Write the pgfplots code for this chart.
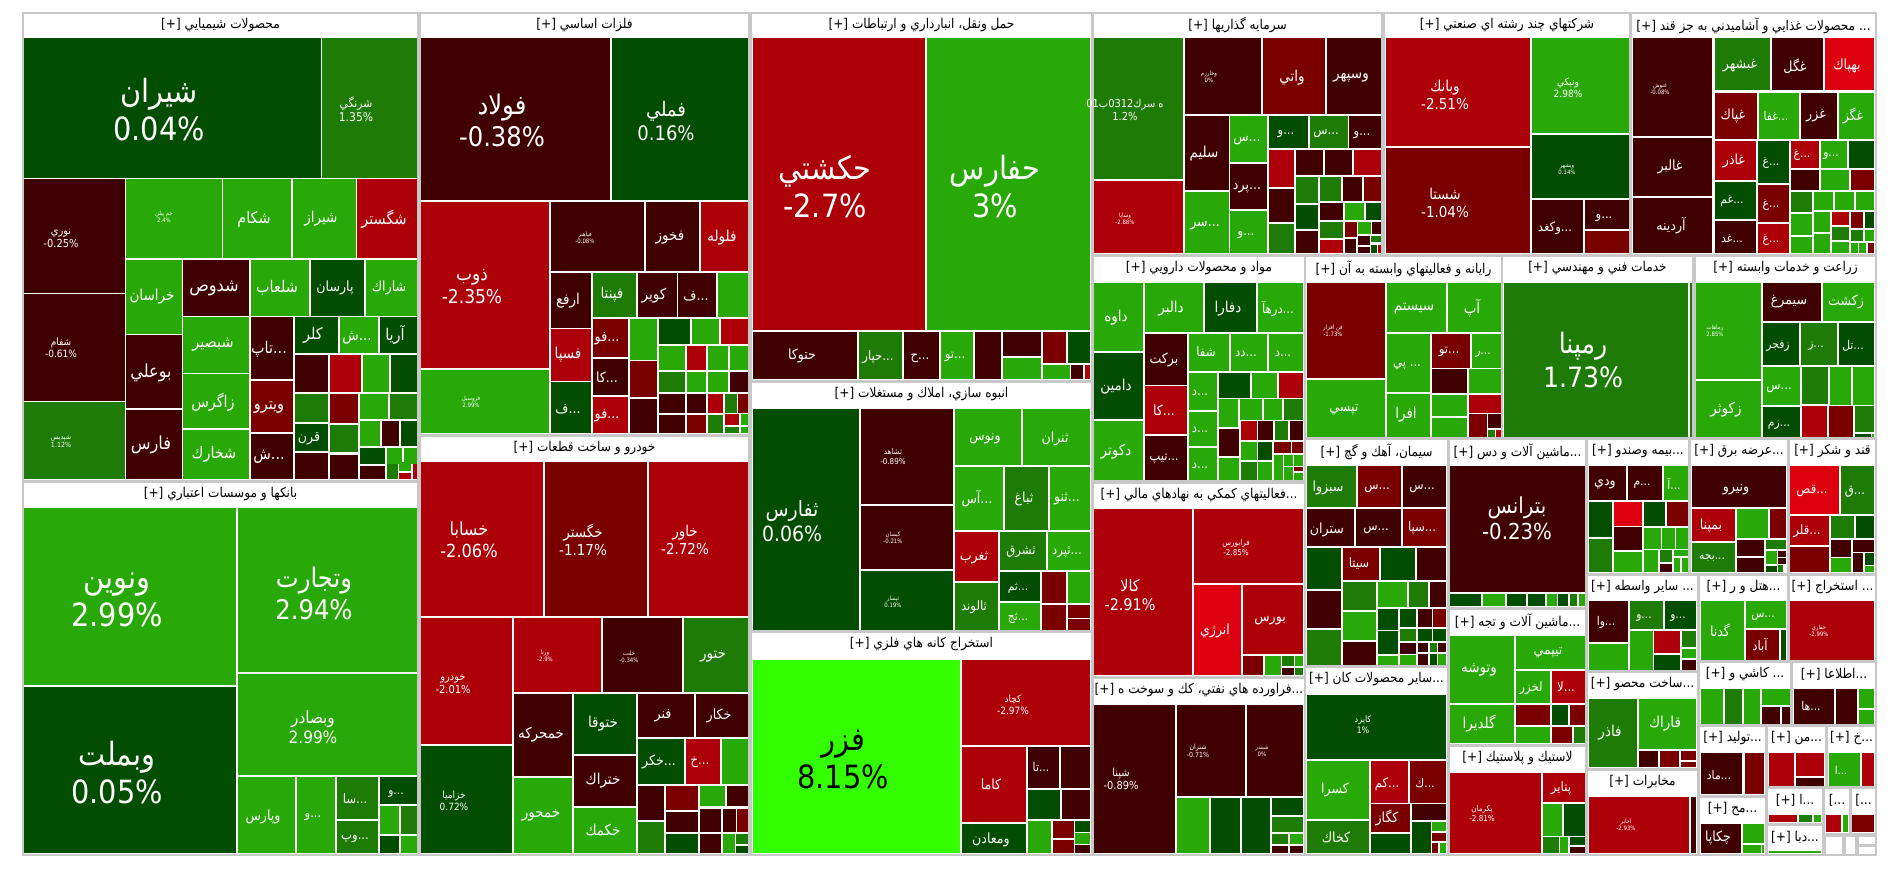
\documentclass[border=0pt]{standalone}
\usepackage{pgfplots}
\pgfplotsset{compat=1.18}
\usepackage{fontspec}
\setmainfont{DejaVu Sans Condensed}
\newfontfamily\ar[Script=Arabic]{DejaVu Sans Condensed}
\TeXXeTstate=1
\definecolor{dk}{HTML}{400000}
\definecolor{md}{HTML}{7A0000}
\definecolor{rd}{HTML}{AD0009}
\definecolor{br}{HTML}{DD000F}
\definecolor{lg}{HTML}{28A908}
\definecolor{mg}{HTML}{1D7B06}
\definecolor{dg}{HTML}{024D00}
\definecolor{fz}{HTML}{33FF00}
\definecolor{edge}{HTML}{C8C8C8}
\newcommand\R[1]{{\ar\beginR #1\endR}}
% one treemap cell, corners in image pixels
\newcommand\cell[5]{\addplot[fill=#5,draw=none] coordinates {(#1,#2)(#3,#2)(#3,#4)(#1,#4)} -- cycle;}
% sector box with its white header
\newcommand\sect[5]{\addplot[fill=white,draw=edge,line width=1.5pt] coordinates {(#1,#2)(#3,#2)(#3,#4)(#1,#4)} -- cycle;
  \node[black,font=\fontsize{13.5}{15}\selectfont,inner sep=0pt] at (axis cs:{(#1+#3)/2},{#2+12.5}) {#5};}
\newcommand\lab[5][white]{\node[#1,align=center,inner sep=0pt,font=\fontsize{#4}{\numexpr#4*6/5\relax}\selectfont] at (axis cs:#2,#3) {#5};}
\begin{document}
\begin{tikzpicture}
\useasboundingbox (0,0) rectangle (1900pt,873pt);
\begin{axis}[
    at={(0,0)},anchor=south west,
    scale only axis,
    width=1900pt,height=873pt,
    xmin=0,xmax=1900,ymin=0,ymax=873,
    y dir=reverse,
    axis lines=none,
    clip=false
]
% sector boxes
\sect{23}{13}{418}{481}{[+] \R{محصولات شيميايي}}
\sect{23}{482}{418}{855}{[+] \R{بانكها و موسسات اعتباري}}
\sect{420}{13}{749}{435}{[+] \R{فلزات اساسي}}
\sect{420}{436}{749}{855}{[+] \R{خودرو و ساخت قطعات}}
\sect{751}{13}{1092}{381}{[+] \R{حمل ونقل، انبارداري و ارتباطات}}
\sect{751}{382}{1092}{631}{[+] \R{انبوه سازي، املاك و مستغلات}}
\sect{751}{632}{1092}{855}{[+] \R{استخراج كانه هاي فلزي}}
\sect{1093}{13}{1382}{255}{[+] \R{سرمايه گذاريها}}
\sect{1384}{13}{1630}{255}{[+] \R{شركتهاي چند رشته اي صنعتي}}
\sect{1631}{13}{1876}{255}{[+] \R{محصولات غذايي و آشاميدني به جز قند} ...}
\sect{1093}{256}{1305}{481}{[+] \R{مواد و محصولات دارويي}}
\sect{1093}{483}{1305}{677}{[+] \R{فعاليتهاي كمكي به نهادهاي مالي}...}
\sect{1093}{678}{1305}{855}{[+] \R{فراورده هاي نفتي، كك و سوخت ه}...}
\sect{1305}{256}{1502}{438}{[+] \R{رايانه و فعاليتهاي وابسته به آن}}
\sect{1502}{256}{1693}{438}{[+] \R{خدمات فني و مهندسي}}
\sect{1695}{256}{1876}{438}{[+] \R{زراعت و خدمات وابسته}}
\sect{1305}{439}{1448}{666}{[+] \R{سيمان، آهك و گچ}}
\sect{1305}{667}{1448}{855}{[+] \R{ساير محصولات كان}...}
\sect{1449}{439}{1586}{608}{[+] \R{ماشين آلات و دس}...}
\sect{1449}{609}{1586}{745}{[+] \R{ماشين آلات و تجه}...}
\sect{1449}{746}{1586}{855}{[+] \R{لاستيك و پلاستيك}}
\sect{1587}{439}{1689}{574}{[+] \R{بيمه وصندو}...}
\sect{1690}{439}{1788}{574}{[+] \R{عرضه برق}...}
\sect{1789}{439}{1876}{574}{[+] \R{قند و شكر}}
\sect{1587}{575}{1698}{671}{[+] \R{ساير واسطه} ...}
\sect{1699}{575}{1788}{661}{[+] \R{هتل و ر}...}
\sect{1789}{575}{1876}{661}{[+] \R{استخراج} ...}
\sect{1587}{672}{1698}{769}{[+] \R{ساخت محصو}...}
\sect{1587}{770}{1698}{855}{[+] \R{مخابرات}}
\sect{1699}{662}{1791}{725}{[+] \R{كاشي و} ...}
\sect{1792}{662}{1876}{725}{[+] \R{اطلاعا}...}
\sect{1699}{726}{1766}{796}{[+] \R{توليد}...}
\sect{1767}{726}{1826}{787}{[+] \R{من}...}
\sect{1827}{726}{1876}{787}{[+] \R{خ}...}
\sect{1699}{797}{1766}{855}{[+] \R{مح}...}
\sect{1767}{788}{1823}{824}{[+] \R{ا}...}
\sect{1824}{788}{1850}{834}{[...}
\sect{1851}{788}{1876}{834}{[...}
\sect{1767}{825}{1823}{855}{[+] \R{دبا}...}
\sect{1825}{836}{1843}{855}{}
\sect{1845}{836}{1856}{855}{}
\sect{1858}{836}{1876}{845}{}
\sect{1858}{846}{1876}{855}{}
% chemicals
\cell{24}{38}{321}{178}{dg}\cell{322}{38}{417}{178}{mg}
\cell{24}{179}{125}{293}{dk}\cell{24}{294}{125}{401}{dk}\cell{24}{402}{125}{479}{mg}
\cell{126}{179}{222}{258}{lg}\cell{223}{179}{291}{258}{lg}\cell{293}{179}{356}{258}{lg}\cell{357}{179}{417}{258}{rd}
\cell{126}{260}{182}{334}{lg}\cell{126}{335}{182}{408}{dk}\cell{126}{410}{182}{479}{dk}
\cell{183}{260}{249}{316}{dk}\cell{183}{317}{249}{373}{lg}\cell{183}{374}{249}{428}{lg}\cell{183}{430}{249}{479}{lg}
\cell{251}{260}{309}{316}{lg}\cell{311}{260}{364}{316}{dg}\cell{366}{260}{417}{316}{lg}
\cell{251}{317}{293}{379}{dk}\cell{251}{381}{293}{432}{md}\cell{251}{434}{293}{479}{dk}
\cell{295}{317}{338}{353}{dg}\cell{340}{317}{378}{353}{lg}\cell{380}{317}{417}{353}{dg}
\cell{295}{355}{328}{392}{dk}\cell{330}{355}{361}{392}{rd}\cell{363}{355}{389}{392}{lg}\cell{391}{355}{417}{392}{dg}
\cell{295}{394}{328}{422}{mg}\cell{330}{394}{358}{423}{md}\cell{360}{394}{388}{419}{lg}\cell{390}{394}{417}{419}{mg}
\cell{295}{424}{328}{451}{dg}\cell{295}{453}{328}{479}{dk}\cell{330}{425}{358}{452}{mg}\cell{330}{455}{358}{479}{dk}
\cell{360}{421}{380}{446}{lg}\cell{382}{421}{399}{446}{dk}\cell{401}{421}{417}{446}{dg}
\cell{360}{448}{385}{464}{dg}\cell{387}{448}{402}{464}{lg}\cell{404}{448}{417}{464}{lg}
\cell{360}{466}{385}{479}{dk}\cell{387}{464}{398}{479}{mg}\cell{399}{462}{411}{471}{lg}\cell{399}{473}{411}{479}{rd}\cell{413}{464}{417}{479}{rd}
% banks
\cell{24}{508}{236}{685}{lg}\cell{24}{687}{236}{853}{dg}\cell{238}{508}{417}{672}{lg}\cell{238}{674}{417}{775}{lg}
\cell{238}{777}{295}{853}{lg}\cell{297}{777}{335}{853}{lg}\cell{337}{777}{378}{819}{mg}\cell{337}{821}{378}{853}{mg}
\cell{380}{777}{417}{804}{dg}\cell{380}{806}{399}{834}{lg}\cell{401}{806}{417}{834}{mg}\cell{380}{836}{399}{853}{dg}\cell{401}{836}{417}{853}{lg}
% basic metals
\cell{421}{38}{610}{200}{dk}\cell{612}{38}{748}{200}{dg}\cell{421}{202}{549}{368}{rd}\cell{421}{370}{549}{433}{lg}
\cell{551}{202}{644}{271}{dk}\cell{646}{202}{699}{271}{dk}\cell{701}{202}{748}{271}{rd}
\cell{551}{273}{591}{328}{dk}\cell{593}{273}{636}{317}{mg}\cell{638}{273}{677}{317}{dk}\cell{678}{273}{716}{317}{dk}\cell{718}{273}{748}{317}{lg}
\cell{551}{329}{591}{381}{rd}\cell{551}{382}{591}{433}{dg}
\cell{593}{319}{628}{357}{md}\cell{593}{359}{628}{395}{dk}\cell{593}{397}{628}{433}{rd}
\cell{630}{319}{657}{360}{lg}\cell{630}{361}{657}{397}{md}\cell{630}{399}{657}{433}{dk}
\cell{659}{319}{690}{344}{dg}\cell{692}{319}{719}{344}{lg}\cell{721}{319}{748}{344}{rd}
\cell{659}{346}{685}{370}{lg}\cell{687}{346}{706}{370}{rd}\cell{708}{346}{728}{370}{lg}\cell{730}{346}{748}{370}{lg}
\cell{659}{372}{685}{392}{mg}\cell{687}{372}{706}{392}{lg}\cell{708}{372}{728}{392}{lg}\cell{730}{372}{748}{392}{dk}
\cell{659}{394}{685}{413}{dk}\cell{687}{394}{706}{413}{dk}\cell{708}{394}{723}{413}{rd}\cell{725}{394}{737}{413}{mg}\cell{738}{394}{748}{413}{md}
\cell{659}{415}{685}{433}{dk}\cell{687}{415}{706}{433}{md}\cell{708}{415}{723}{433}{mg}\cell{725}{414}{739}{425}{rd}\cell{741}{414}{748}{425}{lg}\cell{725}{427}{739}{433}{mg}\cell{741}{427}{748}{433}{lg}
% cars
\cell{421}{462}{543}{616}{rd}\cell{545}{462}{647}{616}{md}\cell{649}{462}{748}{616}{rd}
\cell{421}{618}{512}{744}{rd}\cell{421}{746}{512}{853}{dg}
\cell{514}{618}{601}{692}{rd}\cell{603}{618}{682}{692}{dk}\cell{684}{618}{748}{692}{mg}
\cell{514}{694}{572}{776}{dk}\cell{514}{778}{572}{853}{lg}\cell{574}{694}{636}{754}{dg}\cell{574}{756}{636}{806}{dk}\cell{574}{808}{636}{853}{lg}
\cell{638}{694}{694}{737}{dk}\cell{696}{694}{748}{737}{dk}\cell{638}{739}{684}{784}{dg}\cell{686}{739}{720}{784}{rd}\cell{722}{739}{748}{784}{lg}
\cell{638}{786}{664}{820}{dk}\cell{638}{822}{664}{853}{mg}\cell{666}{786}{698}{810}{md}\cell{666}{812}{698}{832}{dk}\cell{666}{834}{698}{853}{dg}
\cell{700}{786}{725}{806}{lg}\cell{727}{786}{748}{806}{dk}\cell{700}{809}{721}{832}{dk}\cell{723}{809}{736}{832}{dk}\cell{737}{809}{748}{832}{md}
\cell{700}{834}{721}{853}{dk}\cell{723}{834}{735}{853}{lg}\cell{736}{834}{748}{844}{mg}\cell{736}{846}{748}{853}{dg}
% transport
\cell{753}{38}{925}{330}{rd}\cell{927}{38}{1090}{330}{lg}
\cell{753}{332}{857}{379}{dk}\cell{859}{332}{902}{379}{mg}\cell{904}{332}{939}{379}{dk}\cell{941}{332}{973}{379}{lg}\cell{975}{332}{1001}{379}{dk}
\cell{1003}{332}{1041}{356}{dk}\cell{1003}{358}{1041}{379}{lg}\cell{1043}{332}{1066}{363}{md}\cell{1068}{332}{1090}{363}{dg}
\cell{1043}{365}{1070}{379}{lg}\cell{1071}{365}{1083}{379}{dk}\cell{1085}{365}{1090}{379}{rd}
% mass construction
\cell{753}{409}{859}{630}{dg}\cell{861}{409}{953}{504}{dk}\cell{861}{506}{953}{569}{dk}\cell{861}{571}{953}{630}{dg}
\cell{955}{409}{1021}{465}{lg}\cell{1023}{409}{1090}{465}{lg}
\cell{955}{467}{1003}{530}{lg}\cell{1005}{467}{1048}{530}{mg}\cell{1050}{467}{1090}{530}{lg}
\cell{955}{532}{998}{581}{rd}\cell{955}{583}{998}{630}{mg}\cell{1000}{532}{1046}{570}{mg}\cell{1048}{532}{1090}{570}{lg}
\cell{1000}{572}{1040}{601}{dg}\cell{1000}{603}{1040}{630}{lg}\cell{1042}{572}{1066}{603}{md}\cell{1042}{605}{1066}{630}{md}
\cell{1068}{572}{1090}{603}{lg}\cell{1068}{605}{1090}{618}{md}\cell{1068}{619}{1090}{630}{md}
% metal ores
\cell{753}{660}{960}{853}{fz}\cell{962}{660}{1090}{745}{rd}\cell{962}{747}{1026}{822}{rd}\cell{962}{824}{1026}{853}{dg}
\cell{1028}{747}{1059}{788}{dk}\cell{1061}{747}{1090}{788}{dk}\cell{1028}{790}{1060}{819}{dg}\cell{1062}{790}{1090}{819}{dk}
\cell{1028}{821}{1051}{853}{lg}\cell{1053}{821}{1074}{838}{md}\cell{1053}{840}{1074}{853}{md}\cell{1075}{821}{1090}{832}{dg}\cell{1075}{833}{1090}{844}{lg}\cell{1075}{845}{1090}{853}{dk}
% investment
\cell{1094}{38}{1183}{179}{mg}\cell{1094}{181}{1183}{253}{rd}
\cell{1185}{38}{1261}{114}{dk}\cell{1263}{38}{1325}{114}{md}\cell{1327}{38}{1381}{114}{dk}
\cell{1185}{116}{1229}{190}{dk}\cell{1185}{192}{1229}{253}{lg}
\cell{1230}{116}{1267}{162}{lg}\cell{1230}{164}{1267}{209}{dk}\cell{1230}{211}{1267}{253}{lg}
\cell{1269}{116}{1308}{148}{dg}\cell{1310}{116}{1348}{148}{mg}\cell{1349}{116}{1381}{148}{dk}
\cell{1269}{150}{1294}{187}{rd}\cell{1269}{189}{1294}{222}{dk}\cell{1269}{224}{1294}{253}{mg}
\cell{1296}{150}{1323}{175}{dk}\cell{1325}{150}{1352}{175}{dk}\cell{1354}{150}{1381}{175}{rd}
\cell{1296}{177}{1318}{203}{mg}\cell{1320}{177}{1341}{201}{mg}\cell{1343}{177}{1362}{201}{dk}\cell{1364}{177}{1381}{201}{md}
\cell{1296}{205}{1318}{229}{dg}\cell{1296}{231}{1318}{253}{dk}
\cell{1320}{203}{1343}{220}{dk}\cell{1345}{203}{1364}{220}{lg}\cell{1366}{203}{1381}{220}{dg}
\cell{1320}{222}{1343}{238}{mg}\cell{1320}{240}{1343}{253}{rd}
\cell{1345}{222}{1357}{237}{md}\cell{1358}{222}{1371}{234}{lg}\cell{1372}{222}{1381}{234}{dk}
\cell{1345}{239}{1356}{253}{dk}\cell{1358}{236}{1370}{245}{dk}\cell{1371}{236}{1381}{242}{mg}\cell{1358}{247}{1370}{253}{dk}\cell{1371}{245}{1377}{253}{dg}\cell{1378}{245}{1381}{253}{rd}
% multi-industry
\cell{1386}{38}{1530}{146}{rd}\cell{1386}{148}{1530}{253}{md}
\cell{1532}{38}{1629}{133}{lg}\cell{1532}{135}{1629}{198}{dg}\cell{1532}{200}{1583}{253}{dk}\cell{1585}{200}{1629}{229}{dk}\cell{1585}{231}{1629}{253}{md}
% food
\cell{1633}{38}{1712}{136}{dk}\cell{1633}{138}{1712}{196}{dk}\cell{1633}{198}{1712}{253}{dk}
\cell{1715}{38}{1770}{90}{mg}\cell{1772}{38}{1823}{90}{dk}\cell{1825}{38}{1874}{90}{br}
\cell{1715}{93}{1757}{139}{md}\cell{1759}{93}{1799}{139}{lg}\cell{1801}{93}{1837}{139}{dk}\cell{1839}{93}{1874}{139}{lg}
\cell{1715}{141}{1756}{180}{rd}\cell{1715}{182}{1756}{219}{dg}\cell{1715}{221}{1756}{253}{dk}
\cell{1758}{141}{1789}{183}{dg}\cell{1758}{185}{1789}{222}{md}\cell{1758}{224}{1789}{253}{rd}
\cell{1791}{141}{1819}{168}{rd}\cell{1821}{141}{1847}{168}{lg}\cell{1849}{141}{1874}{168}{dg}
\cell{1791}{170}{1819}{190}{dk}\cell{1821}{170}{1849}{190}{lg}\cell{1851}{170}{1874}{190}{md}
\cell{1791}{192}{1812}{212}{mg}\cell{1814}{192}{1833}{210}{lg}\cell{1835}{192}{1854}{210}{lg}\cell{1856}{192}{1874}{210}{lg}
\cell{1791}{214}{1812}{235}{lg}\cell{1791}{237}{1812}{253}{lg}\cell{1814}{212}{1830}{232}{lg}\cell{1814}{234}{1830}{253}{lg}
\cell{1832}{212}{1849}{225}{rd}\cell{1851}{212}{1863}{228}{md}\cell{1865}{212}{1874}{228}{dg}
\cell{1832}{227}{1849}{240}{mg}\cell{1832}{242}{1849}{253}{lg}\cell{1851}{230}{1863}{241}{mg}\cell{1865}{230}{1874}{241}{lg}
\cell{1851}{243}{1858}{253}{lg}\cell{1859}{243}{1866}{253}{lg}\cell{1868}{243}{1874}{253}{md}
% pharma
\cell{1094}{283}{1143}{351}{lg}\cell{1094}{353}{1143}{419}{dg}\cell{1094}{421}{1143}{480}{lg}
\cell{1145}{283}{1203}{332}{lg}\cell{1205}{283}{1256}{332}{dg}\cell{1258}{283}{1303}{332}{lg}
\cell{1145}{334}{1187}{385}{dk}\cell{1145}{386}{1187}{434}{rd}\cell{1145}{436}{1187}{480}{dk}
\cell{1189}{334}{1229}{371}{lg}\cell{1231}{334}{1267}{371}{lg}\cell{1269}{334}{1303}{371}{lg}
\cell{1189}{373}{1217}{410}{lg}\cell{1189}{412}{1217}{446}{lg}\cell{1189}{448}{1217}{480}{lg}
\cell{1219}{373}{1250}{398}{dg}\cell{1252}{373}{1277}{398}{lg}\cell{1279}{373}{1303}{398}{rd}
\cell{1219}{399}{1238}{427}{lg}\cell{1240}{399}{1262}{420}{lg}\cell{1264}{399}{1282}{420}{lg}\cell{1284}{399}{1303}{420}{mg}
\cell{1219}{429}{1239}{456}{dk}\cell{1219}{458}{1239}{480}{lg}
\cell{1241}{421}{1257}{440}{rd}\cell{1258}{421}{1273}{440}{dk}\cell{1275}{421}{1288}{440}{mg}\cell{1290}{421}{1303}{440}{dk}
\cell{1241}{442}{1257}{460}{lg}\cell{1258}{442}{1272}{460}{dg}\cell{1274}{442}{1291}{453}{md}\cell{1292}{442}{1303}{453}{md}
\cell{1241}{462}{1257}{480}{mg}\cell{1258}{462}{1272}{480}{lg}\cell{1274}{455}{1283}{480}{lg}\cell{1284}{455}{1293}{466}{lg}\cell{1294}{455}{1303}{466}{lg}
\cell{1284}{467}{1293}{480}{lg}\cell{1294}{467}{1303}{471}{md}\cell{1294}{473}{1303}{480}{lg}
% financial services
\cell{1094}{509}{1192}{675}{rd}\cell{1194}{509}{1303}{583}{rd}\cell{1194}{585}{1241}{675}{br}\cell{1243}{585}{1303}{654}{rd}
\cell{1243}{656}{1263}{675}{md}\cell{1265}{656}{1281}{675}{lg}\cell{1282}{656}{1294}{666}{mg}\cell{1295}{656}{1303}{666}{lg}\cell{1282}{668}{1294}{675}{dk}\cell{1295}{668}{1303}{675}{mg}
% oil products
\cell{1094}{705}{1175}{853}{dk}\cell{1177}{705}{1245}{796}{dk}\cell{1247}{705}{1303}{796}{dk}
\cell{1177}{798}{1209}{853}{lg}\cell{1211}{798}{1240}{853}{dg}\cell{1242}{798}{1270}{853}{dg}
\cell{1272}{798}{1303}{815}{dg}\cell{1272}{817}{1303}{832}{mg}\cell{1272}{834}{1288}{844}{mg}\cell{1290}{834}{1303}{844}{lg}\cell{1272}{846}{1288}{853}{dk}\cell{1290}{846}{1303}{853}{dk}
% computers
\cell{1307}{283}{1385}{378}{md}\cell{1307}{380}{1385}{437}{lg}\cell{1387}{283}{1446}{332}{lg}\cell{1448}{283}{1501}{332}{lg}
\cell{1387}{334}{1430}{392}{lg}\cell{1387}{394}{1430}{437}{lg}\cell{1432}{334}{1470}{368}{md}\cell{1472}{334}{1501}{368}{lg}
\cell{1432}{369}{1467}{393}{dk}\cell{1469}{369}{1501}{393}{lg}\cell{1432}{395}{1467}{416}{lg}\cell{1469}{395}{1501}{413}{rd}
\cell{1432}{418}{1467}{437}{lg}\cell{1469}{414}{1487}{437}{md}\cell{1488}{414}{1501}{428}{dk}\cell{1488}{430}{1495}{437}{mg}\cell{1496}{430}{1501}{437}{rd}
% engineering, farming
\cell{1504}{283}{1688}{437}{mg}\cell{1690}{283}{1692}{437}{mg}
\cell{1696}{283}{1761}{379}{lg}\cell{1696}{381}{1761}{437}{lg}\cell{1763}{283}{1821}{321}{dk}\cell{1823}{283}{1874}{321}{lg}
\cell{1763}{323}{1799}{365}{dg}\cell{1801}{323}{1837}{365}{mg}\cell{1839}{323}{1874}{365}{dg}
\cell{1763}{367}{1800}{405}{lg}\cell{1763}{407}{1800}{437}{dg}\cell{1802}{367}{1828}{404}{mg}\cell{1830}{367}{1851}{405}{lg}\cell{1853}{367}{1874}{405}{lg}
\cell{1802}{406}{1827}{437}{rd}\cell{1829}{406}{1853}{437}{md}\cell{1855}{406}{1874}{432}{mg}\cell{1855}{434}{1871}{437}{dg}\cell{1872}{434}{1874}{437}{lg}
% cement
\cell{1307}{466}{1356}{507}{mg}\cell{1358}{466}{1401}{507}{md}\cell{1403}{466}{1446}{507}{dk}
\cell{1307}{509}{1354}{546}{dk}\cell{1356}{509}{1401}{546}{dk}\cell{1403}{509}{1446}{546}{md}
\cell{1307}{548}{1341}{589}{dg}\cell{1307}{591}{1341}{628}{dk}\cell{1307}{630}{1341}{665}{mg}
\cell{1343}{548}{1379}{580}{md}\cell{1381}{548}{1415}{580}{dg}\cell{1417}{548}{1446}{580}{dk}
\cell{1343}{582}{1376}{610}{mg}\cell{1378}{582}{1407}{607}{lg}\cell{1409}{582}{1428}{607}{mg}\cell{1430}{582}{1446}{607}{dk}
\cell{1343}{612}{1376}{640}{lg}\cell{1343}{642}{1376}{665}{dk}
\cell{1378}{609}{1398}{630}{dg}\cell{1400}{609}{1416}{627}{dg}\cell{1418}{609}{1432}{627}{dk}\cell{1433}{609}{1446}{627}{md}
\cell{1378}{631}{1398}{654}{dg}\cell{1378}{656}{1398}{665}{lg}\cell{1400}{629}{1416}{641}{mg}\cell{1418}{629}{1432}{641}{dg}\cell{1433}{629}{1446}{641}{dg}
\cell{1400}{643}{1416}{654}{dk}\cell{1418}{643}{1428}{652}{dk}\cell{1430}{643}{1437}{652}{mg}\cell{1438}{643}{1446}{652}{dk}
\cell{1400}{655}{1416}{665}{lg}\cell{1418}{654}{1428}{665}{dk}\cell{1430}{654}{1437}{665}{dg}\cell{1438}{654}{1446}{665}{lg}
% other minerals
\cell{1307}{695}{1446}{759}{dg}\cell{1307}{761}{1369}{819}{lg}\cell{1307}{821}{1369}{853}{mg}
\cell{1371}{761}{1408}{803}{rd}\cell{1410}{761}{1446}{803}{md}\cell{1371}{804}{1410}{832}{md}\cell{1371}{834}{1410}{853}{dg}
\cell{1412}{804}{1446}{820}{dk}\cell{1412}{822}{1431}{853}{dg}\cell{1432}{822}{1446}{831}{lg}\cell{1432}{833}{1446}{841}{md}\cell{1432}{843}{1438}{853}{md}\cell{1440}{843}{1446}{853}{lg}
% machinery
\cell{1450}{466}{1585}{592}{dk}
\cell{1450}{594}{1481}{606}{dg}\cell{1483}{594}{1505}{606}{lg}\cell{1507}{594}{1526}{606}{dg}\cell{1528}{594}{1545}{606}{dg}\cell{1547}{594}{1557}{606}{lg}\cell{1558}{594}{1568}{606}{dg}\cell{1570}{594}{1577}{606}{mg}\cell{1579}{594}{1585}{606}{lg}
\cell{1450}{636}{1514}{703}{lg}\cell{1450}{705}{1514}{743}{lg}\cell{1516}{636}{1585}{669}{lg}\cell{1516}{671}{1550}{703}{lg}\cell{1552}{671}{1585}{703}{rd}
\cell{1516}{705}{1550}{725}{md}\cell{1552}{705}{1568}{725}{dg}\cell{1570}{705}{1585}{725}{md}
\cell{1516}{727}{1550}{743}{lg}\cell{1552}{727}{1572}{743}{md}\cell{1574}{727}{1585}{743}{mg}
% rubber
\cell{1450}{773}{1541}{853}{rd}\cell{1543}{773}{1585}{802}{rd}\cell{1543}{804}{1562}{836}{lg}\cell{1564}{804}{1585}{836}{dg}
\cell{1543}{837}{1559}{853}{mg}\cell{1560}{837}{1568}{853}{lg}\cell{1570}{837}{1585}{845}{dg}\cell{1570}{847}{1585}{853}{dk}
% insurance
\cell{1589}{466}{1626}{500}{dk}\cell{1628}{466}{1662}{500}{dk}\cell{1664}{466}{1688}{500}{lg}
\cell{1589}{502}{1612}{537}{dg}\cell{1589}{539}{1612}{572}{mg}\cell{1614}{502}{1642}{526}{br}\cell{1644}{502}{1665}{526}{dg}\cell{1667}{502}{1688}{526}{md}
\cell{1614}{527}{1642}{550}{dk}\cell{1614}{552}{1642}{572}{lg}\cell{1644}{528}{1661}{549}{lg}\cell{1662}{528}{1675}{549}{lg}\cell{1676}{528}{1688}{549}{lg}
\cell{1644}{550}{1658}{572}{lg}\cell{1660}{550}{1672}{562}{mg}\cell{1674}{550}{1688}{556}{lg}\cell{1660}{564}{1672}{572}{dk}\cell{1674}{558}{1680}{572}{lg}\cell{1682}{558}{1688}{572}{lg}
% electricity
\cell{1692}{466}{1786}{507}{dk}\cell{1692}{509}{1735}{541}{rd}\cell{1692}{543}{1735}{572}{mg}
\cell{1737}{509}{1768}{538}{lg}\cell{1770}{509}{1786}{538}{md}\cell{1737}{540}{1764}{556}{dk}\cell{1737}{558}{1764}{572}{dk}
\cell{1766}{540}{1786}{549}{mg}\cell{1766}{551}{1777}{564}{lg}\cell{1766}{566}{1777}{572}{dg}\cell{1778}{551}{1786}{557}{dk}\cell{1778}{558}{1786}{564}{dk}\cell{1778}{565}{1783}{572}{mg}
% sugar
\cell{1790}{466}{1839}{514}{br}\cell{1841}{466}{1874}{514}{mg}\cell{1790}{516}{1829}{545}{rd}\cell{1790}{547}{1829}{572}{md}
\cell{1831}{516}{1854}{538}{mg}\cell{1856}{516}{1874}{538}{dg}\cell{1831}{540}{1851}{557}{dk}\cell{1853}{540}{1874}{552}{dk}
\cell{1831}{558}{1851}{572}{lg}\cell{1853}{553}{1863}{572}{dk}\cell{1865}{553}{1874}{565}{dg}\cell{1865}{566}{1874}{572}{lg}
% small sectors
\cell{1589}{601}{1628}{642}{dk}\cell{1589}{644}{1628}{670}{lg}\cell{1630}{601}{1663}{629}{mg}\cell{1665}{601}{1696}{629}{dg}
\cell{1630}{631}{1653}{670}{lg}\cell{1654}{631}{1680}{653}{rd}\cell{1654}{655}{1680}{670}{dg}\cell{1682}{631}{1696}{647}{mg}\cell{1682}{649}{1696}{658}{lg}\cell{1682}{660}{1696}{670}{dk}
\cell{1701}{601}{1744}{660}{lg}\cell{1746}{601}{1786}{628}{lg}\cell{1746}{630}{1779}{660}{md}\cell{1781}{630}{1786}{660}{dg}
\cell{1790}{601}{1874}{660}{rd}
\cell{1589}{699}{1637}{767}{mg}\cell{1639}{699}{1696}{749}{lg}\cell{1639}{751}{1658}{767}{dk}\cell{1660}{751}{1679}{767}{md}\cell{1681}{751}{1696}{760}{md}\cell{1681}{762}{1696}{767}{md}
\cell{1589}{797}{1689}{853}{rd}\cell{1691}{797}{1696}{853}{dk}
\cell{1701}{689}{1723}{724}{lg}\cell{1725}{689}{1742}{724}{mg}\cell{1744}{689}{1760}{724}{lg}\cell{1762}{689}{1790}{705}{lg}\cell{1762}{707}{1780}{724}{dk}\cell{1782}{707}{1790}{724}{dk}
\cell{1794}{689}{1834}{724}{dk}\cell{1836}{689}{1857}{724}{dk}\cell{1859}{689}{1874}{708}{lg}\cell{1859}{710}{1874}{724}{lg}
\cell{1701}{753}{1742}{794}{dk}\cell{1745}{753}{1764}{794}{md}
\cell{1769}{753}{1794}{786}{rd}\cell{1796}{753}{1824}{776}{rd}\cell{1796}{778}{1824}{786}{dk}
\cell{1829}{753}{1860}{786}{lg}\cell{1862}{753}{1874}{786}{rd}
\cell{1701}{824}{1741}{853}{dk}\cell{1743}{824}{1764}{843}{lg}\cell{1743}{845}{1761}{853}{lg}\cell{1762}{845}{1764}{853}{lg}
\cell{1769}{815}{1797}{822}{rd}\cell{1799}{815}{1812}{822}{mg}\cell{1814}{815}{1821}{822}{lg}
\cell{1826}{815}{1841}{832}{rd}\cell{1843}{815}{1848}{832}{lg}\cell{1852}{815}{1874}{832}{md}
\cell{1769}{851}{1821}{853}{lg}
% labels
\lab{159}{110}{32}{\R{شيران}\\0.04\%}
\lab{356}{109}{12}{\R{شرنگي}\\1.35\%}
\lab{164}{217}{6}{{\ar\beginR جم پيلن\endR}\\2.4\%}
\lab{254}{219}{16}{\R{شكام}}
\lab{321}{219}{15}{\R{شيراز}}
\lab{384}{219}{16}{\R{شگستر}}
\lab{61}{238}{11}{\R{نوري}\\-0.25\%}
\lab{61}{348}{10}{\R{شفام}\\-0.61\%}
\lab{61}{441}{7}{\R{شپديس}\\1.12\%}
\lab{152}{297}{15}{\R{خراسان}}
\lab{151}{373}{18}{\R{بوعلي}}
\lab{151}{445}{18}{\R{فارس}}
\lab{214}{288}{18}{\R{شدوص}}
\lab{213}{345}{16}{\R{شبصير}}
\lab{213}{402}{16}{\R{زاگرس}}
\lab{214}{454}{16}{\R{شخارك}}
\lab{277}{288}{16}{\R{شلعاب}}
\lab{335}{288}{14}{\R{پارسان}}
\lab{389}{288}{14}{\R{شاراك}}
\lab{269}{349}{16}{\R{تاپ}...}
\lab{269}{408}{16}{\R{ويترو}}
\lab{269}{457}{16}{\R{ش}...}
\lab{313}{335}{16}{\R{كلر}}
\lab{357}{338}{15}{\R{ش}...}
\lab{395}{335}{16}{\R{آريا}}
\lab{309}{439}{14}{\R{قرن}}
\lab{117}{600}{32}{\R{ونوين}\\2.99\%}
\lab{117}{773}{32}{\R{وبملت}\\0.05\%}
\lab{314}{593}{27}{\R{وتجارت}\\2.94\%}
\lab{313}{727}{17}{\R{وبصادر}\\2.99\%}
\lab{263}{817}{14}{\R{وپارس}}
\lab{313}{817}{13}{\R{و}...}
\lab{355}{799}{13}{\R{سا}...}
\lab{355}{839}{13}{\R{وپ}...}
\lab{396}{794}{12}{\R{و}...}
\lab{502}{120}{27}{\R{فولاد}\\-0.38\%}
\lab{666}{121}{20}{\R{فملي}\\0.16\%}
\lab{472}{287}{19}{\R{ذوب}\\-2.35\%}
\lab{471}{402}{6}{\R{فروسيل}\\2.99\%}
\lab{585}{238}{6}{\R{فباهنر}\\-0.08\%}
\lab{670}{238}{15}{\R{فخوز}}
\lab{722}{238}{15}{\R{فلوله}}
\lab{568}{301}{15}{\R{ارفع}}
\lab{612}{295}{15}{\R{فپنتا}}
\lab{654}{296}{15}{\R{كوير}}
\lab{696}{296}{14}{\R{ف}...}
\lab{568}{355}{15}{\R{فسپا}}
\lab{568}{409}{14}{\R{ف}...}
\lab{607}{339}{14}{\R{فو}...}
\lab{607}{377}{14}{\R{كا}...}
\lab{607}{416}{14}{\R{فو}...}
\lab{469}{540}{18}{\R{خسابا}\\-2.06\%}
\lab{583}{540}{15}{\R{خگستر}\\-1.17\%}
\lab{685}{540}{15}{\R{خاور}\\-2.72\%}
\lab{453}{684}{11}{\R{خودرو}\\-2.01\%}
\lab{454}{801}{10}{\R{خزاميا}\\0.72\%}
\lab{545}{656}{6}{\R{ورنا}\\-2.9\%}
\lab{629}{657}{6}{\R{خلنت}\\-0.34\%}
\lab{713}{656}{15}{\R{ختور}}
\lab{541}{735}{15}{\R{خمحركه}}
\lab{541}{815}{15}{\R{خمحور}}
\lab{603}{724}{15}{\R{ختوقا}}
\lab{603}{781}{15}{\R{ختراك}}
\lab{603}{830}{15}{\R{خكمك}}
\lab{663}{716}{14}{\R{فنر}}
\lab{719}{716}{14}{\R{خكار}}
\lab{659}{762}{14}{\R{خكر}...}
\lab{700}{762}{13}{\R{خ}...}
\lab{825}{187}{32}{\R{حكشتي}\\-2.7\%}
\lab{995}{187}{32}{\R{حفارس}\\3\%}
\lab{802}{356}{14}{\R{حتوكا}}
\lab{878}{357}{13}{\R{حپار}...}
\lab{920}{358}{13}{\R{ح}...}
\lab{955}{357}{13}{\R{تو}...}
\lab{985}{439}{14}{\R{ونوس}}
\lab{1055}{439}{14}{\R{ثنران}}
\lab{792}{521}{21}{\R{ثفارس}\\0.06\%}
\lab{893}{457}{8}{\R{ثشاهد}\\-0.89\%}
\lab{893}{538}{6}{\R{كيسان}\\-0.21\%}
\lab{893}{602}{6}{\R{ثپسار}\\0.19\%}
\lab{977}{499}{14}{\R{آس}...}
\lab{1024}{499}{14}{\R{ثباغ}}
\lab{1067}{499}{14}{\R{ثنو}...}
\lab{974}{558}{14}{\R{ثغرب}}
\lab{974}{607}{13}{\R{ثالوند}}
\lab{1021}{552}{13}{\R{ثشرق}}
\lab{1067}{552}{13}{\R{ثپرد}...}
\lab{1018}{588}{12}{\R{ثم}...}
\lab{1018}{618}{12}{\R{ثج}...}
\lab[black]{843}{760}{32}{\R{فزر}\\8.15\%}
\lab{1013}{705}{10}{\R{كچاد}\\-2.97\%}
\lab{991}{784}{14}{\R{كاما}}
\lab{1041}{767}{12}{\R{تا}...}
\lab{991}{840}{14}{\R{ومعادن}}
\lab{1125}{110}{11}{01\R{ب}0312{\ar\beginR ه سرك\endR}\\1.2\%}
\lab{1125}{219}{6}{\R{وسايا}\\-2.88\%}
\lab{1209}{77}{6}{\R{وخارزم}\\0\%}
\lab{1292}{78}{15}{\R{واتي}}
\lab{1351}{78}{15}{\R{وسپهر}}
\lab{1204}{154}{15}{\R{سليم}}
\lab{1205}{226}{14}{\R{سر}...}
\lab{1247}{141}{14}{\R{س}...}
\lab{1247}{188}{14}{\R{پرد}...}
\lab{1246}{235}{13}{\R{و}...}
\lab{1286}{134}{13}{\R{و}...}
\lab{1326}{134}{13}{\R{س}...}
\lab{1362}{135}{13}{\R{و}...}
\lab{1445}{95}{15}{\R{وبانك}\\-2.51\%}
\lab{1445}{203}{15}{\R{شستا}\\-1.04\%}
\lab{1568}{88}{10}{\R{ونيكي}\\2.98\%}
\lab{1567}{169}{6}{\R{وبشهر}\\0.14\%}
\lab{1555}{228}{13}{\R{وكغد}...}
\lab{1604}{218}{13}{\R{و}...}
\lab{1660}{89}{6}{\R{غنوش}\\-0.08\%}
\lab{1670}{167}{14}{\R{غالبر}}
\lab{1671}{226}{14}{\R{آردينه}}
\lab{1740}{66}{14}{\R{غبشهر}}
\lab{1795}{66}{14}{\R{غگل}}
\lab{1847}{66}{14}{\R{بهپاك}}
\lab{1733}{116}{14}{\R{غپاك}}
\lab{1776}{116}{12}{\R{غفا}...}
\lab{1816}{116}{14}{\R{غزر}}
\lab{1853}{116}{14}{\R{غگز}}
\lab{1734}{161}{14}{\R{غاذر}}
\lab{1732}{201}{12}{\R{غم}...}
\lab{1732}{239}{12}{\R{غد}...}
\lab{1771}{163}{12}{\R{غ}...}
\lab{1771}{205}{12}{\R{غ}...}
\lab{1771}{240}{12}{\R{غ}...}
\lab{1802}{155}{12}{\R{غ}...}
\lab{1831}{156}{12}{\R{و}...}
\lab{1116}{318}{15}{\R{داوه}}
\lab{1116}{387}{15}{\R{دامين}}
\lab{1116}{452}{15}{\R{دكوتر}}
\lab{1171}{309}{15}{\R{دالبر}}
\lab{1228}{309}{15}{\R{دفارا}}
\lab{1278}{309}{13}{\R{درهآ}...}
\lab{1164}{360}{14}{\R{بركت}}
\lab{1164}{410}{14}{\R{كا}...}
\lab{1164}{459}{13}{\R{تيپ}...}
\lab{1206}{352}{13}{\R{شفا}}
\lab{1246}{354}{13}{\R{دد}...}
\lab{1283}{354}{13}{\R{د}...}
\lab{1200}{393}{13}{\R{د}...}
\lab{1200}{430}{13}{\R{د}...}
\lab{1200}{466}{13}{\R{د}...}
\lab{1130}{595}{16}{\R{كالا}\\-2.91\%}
\lab{1236}{548}{8}{\R{فرابورس}\\-2.85\%}
\lab{1215}{631}{14}{\R{انرژي}}
\lab{1270}{621}{14}{\R{بورس}}
\lab{1121}{779}{11}{\R{شپنا}\\-0.89\%}
\lab{1198}{751}{7}{\R{شتران}\\-0.71\%}
\lab{1262}{751}{6}{\R{شبندر}\\0\%}
\lab{1333}{331}{6}{{\ar\beginR فن افزار\endR}\\-1.73\%}
\lab{1344}{410}{14}{\R{تپسي}}
\lab{1414}{309}{15}{\R{سيستم}}
\lab{1472}{308}{15}{\R{آپ}}
\lab{1407}{366}{13}{\R{پي} ...}
\lab{1406}{415}{15}{\R{افرا}}
\lab{1449}{352}{13}{\R{تو}...}
\lab{1483}{354}{12}{\R{ر}...}
\lab{1583}{360}{28}{\R{رمپنا}\\1.73\%}
\lab{1715}{331}{6}{\R{رماهات}\\2.85\%}
\lab{1726}{410}{15}{\R{زكوثر}}
\lab{1789}{302}{14}{\R{سيمرغ}}
\lab{1846}{302}{14}{\R{زكشت}}
\lab{1778}{346}{12}{\R{زفجر}}
\lab{1816}{346}{12}{\R{ز}...}
\lab{1853}{346}{12}{\R{تل}...}
\lab{1779}{389}{13}{\R{س}...}
\lab{1779}{425}{12}{\R{زم}...}
\lab{1328}{488}{14}{\R{سبزوا}}
\lab{1377}{489}{13}{\R{س}...}
\lab{1422}{489}{13}{\R{س}...}
\lab{1327}{530}{14}{\R{ستران}}
\lab{1376}{530}{13}{\R{س}...}
\lab{1422}{528}{13}{\R{سپا}...}
\lab{1359}{564}{13}{\R{سيتا}}
\lab{1363}{725}{9}{\R{كايزد}\\1\%}
\lab{1335}{790}{14}{\R{كسرا}}
\lab{1336}{837}{14}{\R{كخاك}}
\lab{1387}{784}{13}{\R{كم}...}
\lab{1425}{783}{12}{\R{ك}...}
\lab{1387}{818}{14}{\R{كگاز}}
\lab{1517}{518}{22}{\R{بترانس}\\-0.23\%}
\lab{1479}{670}{15}{\R{وتوشه}}
\lab{1479}{724}{15}{\R{گلديرا}}
\lab{1548}{653}{14}{\R{تيپمي}}
\lab{1531}{688}{13}{\R{لخزر}}
\lab{1566}{687}{13}{\R{لا}...}
\lab{1482}{814}{8}{\R{پكرمان}\\-2.81\%}
\lab{1561}{788}{13}{\R{پتاير}}
\lab{1605}{484}{14}{\R{ودي}}
\lab{1642}{485}{12}{\R{م}...}
\lab{1674}{484}{12}{\R{آ}...}
\lab{1736}{490}{14}{\R{ونيرو}}
\lab{1711}{526}{14}{\R{بمپنا}}
\lab{1712}{558}{12}{\R{بجه}...}
\lab{1812}{491}{13}{\R{قص}...}
\lab{1855}{492}{13}{\R{ق}...}
\lab{1807}{531}{13}{\R{قلر}...}
\lab{1606}{622}{12}{\R{وا}...}
\lab{1644}{618}{12}{\R{و}...}
\lab{1678}{618}{12}{\R{و}...}
\lab{1720}{630}{14}{\R{گدنا}}
\lab{1763}{617}{12}{\R{س}...}
\lab{1760}{645}{13}{\R{آباد}}
\lab{1819}{631}{6}{\R{حفاري}\\-2.99\%}
\lab{1610}{733}{15}{\R{فاذر}}
\lab{1665}{724}{15}{\R{قاراك}}
\lab{1626}{825}{6}{\R{اخابر}\\-2.93\%}
\lab{1811}{706}{12}{\R{ها}...}
\lab{1719}{775}{12}{\R{ماد}...}
\lab{1841}{770}{11}{\R{ا}...}
\lab{1718}{838}{14}{\R{چكاپا}}
\end{axis}
\end{tikzpicture}
\end{document}
